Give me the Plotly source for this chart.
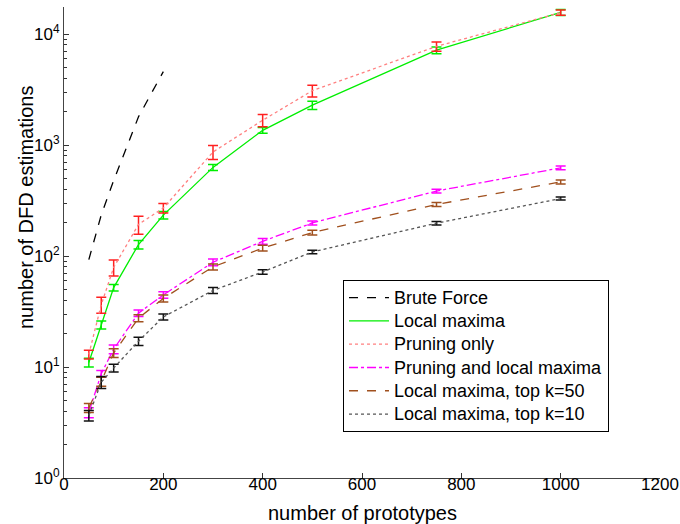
import plotly.graph_objects as go

x_all = [50, 75, 100, 150, 200, 300, 400, 500, 750, 1000]
x_bf = [50, 75, 100, 150, 200]

brute_force = [93, 235, 480, 1800, 4600]

local_max = [11.0, 24, 52, 127, 234, 630, 1360, 2290, 7180, 15700]
local_max_err = [1.0, 2, 3.5, 11, 18, 40, 80, 200, 500, 1000]

pruning = [13, 36.5, 79, 193, 271, 868, 1676, 3095, 7770, 15650]
pruning_err = [1.2, 6, 13, 36, 27, 125, 215, 375, 740, 850]

prun_local = [3.9, 8.7, 14.5, 30.6, 44.7, 88, 136, 199, 386, 624]
prun_local_err = [0.4, 0.6, 1.3, 2, 3, 6, 8, 8, 15, 25]

top50 = [4.3, 7.4, 13.4, 27.6, 41.5, 80, 118, 163, 292, 466]
top50_err = [0.4, 0.7, 1.2, 2, 3, 5, 7, 8, 12, 20]

top10 = [3.66, 7.3, 9.8, 17.1, 28.3, 49, 72, 109, 198, 330]
top10_err = [0.4, 0.9, 0.8, 1.5, 1.8, 3, 3.5, 4, 7, 10]

names = ["Brute Force", "Local maxima", "Pruning only", "Pruning and local maxima",
         "Local maxima, top k=50", "Local maxima, top k=10"]

x_title = "number of prototypes"
y_title = "number of DFD estimations"


def leg(n):
    return "<span style='font-size:18px'>%s</span>" % n


fig = go.Figure()

fig.add_trace(go.Scatter(x=x_bf, y=brute_force, mode="lines", name=leg(names[0]),
                         line=dict(color="black", dash="dash", width=1.3)))

series = [
    (local_max, local_max_err, names[1], "#00EE00", "solid", "#00EE00"),
    (pruning, pruning_err, names[2], "#FF8080", "dot", "#FF2020"),
    (prun_local, prun_local_err, names[3], "#FF00FF", "dashdot", "#FF00FF"),
    (top50, top50_err, names[4], "#A0501E", "dash", "#A0501E"),
    (top10, top10_err, names[5], "#555555", "dot", "#111111"),
]
for y, e, n, c, d, ec in series:
    fig.add_trace(go.Scatter(
        x=x_all, y=y, mode="lines", name=leg(n),
        line=dict(color=c, dash=d, width=1.3),
        error_y=dict(type="data", array=e, visible=True, color=ec, thickness=1.5, width=5),
    ))

major = [0, 1, 2, 3, 4]
minor_vals = [m * 10 ** k for k in range(0, 5) for m in range(2, 10)]

L, R, T, B = 64, 20, 7, 46
W, H = 680, 524
pw, ph = W - L - R, H - T - B

fig.update_layout(
    width=W, height=H,
    margin=dict(l=L, r=R, t=T, b=B, autoexpand=False),
    paper_bgcolor="white", plot_bgcolor="white",
    font=dict(family="Liberation Sans, Arial, sans-serif", size=18, color="black"),
    showlegend=True,
    legend=dict(x=(343 - L) / pw, y=(H - B - 280) / ph, xanchor="left", yanchor="top",
                bordercolor="black", borderwidth=1, bgcolor="white",
                font=dict(size=15.6), tracegroupgap=0, itemwidth=40),
    annotations=[
        dict(text=x_title, xref="paper", yref="paper", x=0.5, y=(H - B - 513) / ph,
             xanchor="center", yanchor="middle", showarrow=False, font=dict(size=20)),
        dict(text=y_title, xref="paper", yref="paper", x=(26 - L) / pw, y=(H - B - 208) / ph,
             xanchor="center", yanchor="middle", showarrow=False, textangle=-90,
             font=dict(size=20)),
    ],
)
fig.update_xaxes(
    range=[0, 1200], tickvals=list(range(0, 1201, 200)),
    ticks="inside", ticklen=5, tickcolor="#333",
    showline=True, linecolor="#444", linewidth=1,
    showgrid=False, zeroline=False, automargin=False,
    tickfont=dict(size=17), ticklabelstandoff=-9,
)
fig.update_yaxes(
    type="log", range=[0, 4.245],
    tickvals=[10 ** k for k in major],
    ticktext=["10<sup>%d</sup>" % k for k in major],
    ticks="inside", ticklen=5, tickcolor="#333",
    minor=dict(tickvals=minor_vals, ticks="inside", ticklen=3, tickcolor="#333", showgrid=False),
    showline=True, linecolor="#444", linewidth=1,
    showgrid=False, zeroline=False, automargin=False,
    tickfont=dict(size=17),
)

fig.write_html("out.html", post_script="document.body.style.margin='0';",
               config={"displayModeBar": False})
